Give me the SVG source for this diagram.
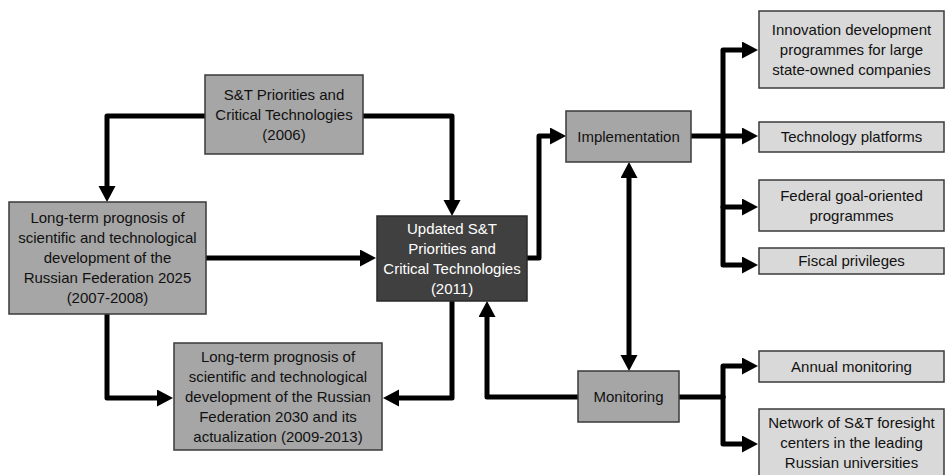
<svg xmlns="http://www.w3.org/2000/svg" width="945" height="475" viewBox="0 0 945 475">
<style>
.mid{fill:#a6a6a6;stroke:#3a3a3a;stroke-width:1.5}
.light{fill:#d9d9d9;stroke:#3a3a3a;stroke-width:1.5}
.dark{fill:#404040;stroke:#2a2a2a;stroke-width:1.5}
text{font-family:"Liberation Sans",Arial,sans-serif;font-size:15px;fill:#111;text-anchor:middle}
.w{fill:#ffffff}
.c{fill:none;stroke:#000;stroke-width:5;stroke-linejoin:round;stroke-linecap:round}
.a{marker-end:url(#ah)}
.d{marker-end:url(#ah);marker-start:url(#ah)}
</style>
<defs>
<marker id="ah" markerUnits="userSpaceOnUse" markerWidth="18" markerHeight="18" refX="2" refY="8.5" orient="auto-start-reverse">
<path d="M0,0 L16,8.5 L0,17 z" fill="#000"/>
</marker>
</defs>
<rect width="945" height="475" fill="#fff"/>
<g id="connectors">
<path class="c a" d="M205,116 H107 V188"/>
<path class="c a" d="M363,116 H452 V202"/>
<path class="c a" d="M206,258 H362"/>
<path class="c a" d="M107,314 V398 H159"/>
<path class="c a" d="M452,301 V398 H397"/>
<path class="c a" d="M578,397 H487 V315"/>
<path class="c a" d="M527,258 H539 V136 H552"/>
<path class="c d" d="M629,176 V357"/>
<path class="c" d="M691,136 H723"/>
<path class="c a" d="M723,136 V50 H744"/>
<path class="c a" d="M723,136 H744"/>
<path class="c a" d="M723,136 V265 H744"/>
<path class="c a" d="M723,207 H744"/>
<path class="c" d="M679,397 H723"/>
<path class="c a" d="M723,397 V366 H744"/>
<path class="c a" d="M723,397 V444 H744"/>
</g>
<g id="st2006">
<rect class="mid" x="205" y="75" width="158" height="79"/>
<text x="284" y="100">S&amp;T Priorities and</text>
<text x="284" y="120">Critical Technologies</text>
<text x="284" y="140">(2006)</text>
</g>
<g id="prog2025">
<rect class="mid" x="9" y="202" width="197" height="112"/>
<text x="107.5" y="223">Long-term prognosis of</text>
<text x="107.5" y="243">scientific and technological</text>
<text x="107.5" y="263">development of the</text>
<text x="107.5" y="283">Russian Federation 2025</text>
<text x="107.5" y="303">(2007-2008)</text>
</g>
<g id="updated">
<rect class="dark" x="377" y="216" width="150" height="85"/>
<text class="w" x="452" y="233.5">Updated S&amp;T</text>
<text class="w" x="452" y="253.5">Priorities and</text>
<text class="w" x="452" y="273.5">Critical Technologies</text>
<text class="w" x="452" y="293.5">(2011)</text>
</g>
<g id="prog2030">
<rect class="mid" x="174" y="343" width="208" height="107"/>
<text x="278" y="361.5">Long-term prognosis of</text>
<text x="278" y="381.5">scientific and technological</text>
<text x="278" y="401.5">development of the Russian</text>
<text x="278" y="421.5">Federation 2030 and its</text>
<text x="278" y="441.5">actualization (2009-2013)</text>
</g>
<g id="implementation">
<rect class="mid" x="566" y="111" width="125" height="51"/>
<text x="628.5" y="141.5">Implementation</text>
</g>
<g id="monitoring">
<rect class="mid" x="578" y="371" width="101" height="51"/>
<text x="628.5" y="401.5">Monitoring</text>
</g>
<g id="innovation">
<rect class="light" x="759" y="11" width="185" height="77"/>
<text x="851.5" y="34.5">Innovation development</text>
<text x="851.5" y="54.5">programmes for large</text>
<text x="851.5" y="74.5">state-owned companies</text>
</g>
<g id="platforms">
<rect class="light" x="759" y="122" width="185" height="30"/>
<text x="851.5" y="142">Technology platforms</text>
</g>
<g id="federal">
<rect class="light" x="759" y="180" width="185" height="51"/>
<text x="851.5" y="200.5">Federal goal-oriented</text>
<text x="851.5" y="220.5">programmes</text>
</g>
<g id="fiscal">
<rect class="light" x="759" y="248" width="185" height="26"/>
<text x="851.5" y="266">Fiscal privileges</text>
</g>
<g id="annual">
<rect class="light" x="759" y="351" width="185" height="31"/>
<text x="851.5" y="371.5">Annual monitoring</text>
</g>
<g id="network">
<rect class="light" x="759" y="409" width="185" height="70"/>
<text x="851.5" y="428">Network of S&amp;T foresight</text>
<text x="851.5" y="448">centers in the leading</text>
<text x="851.5" y="468">Russian universities</text>
</g>
</svg>
